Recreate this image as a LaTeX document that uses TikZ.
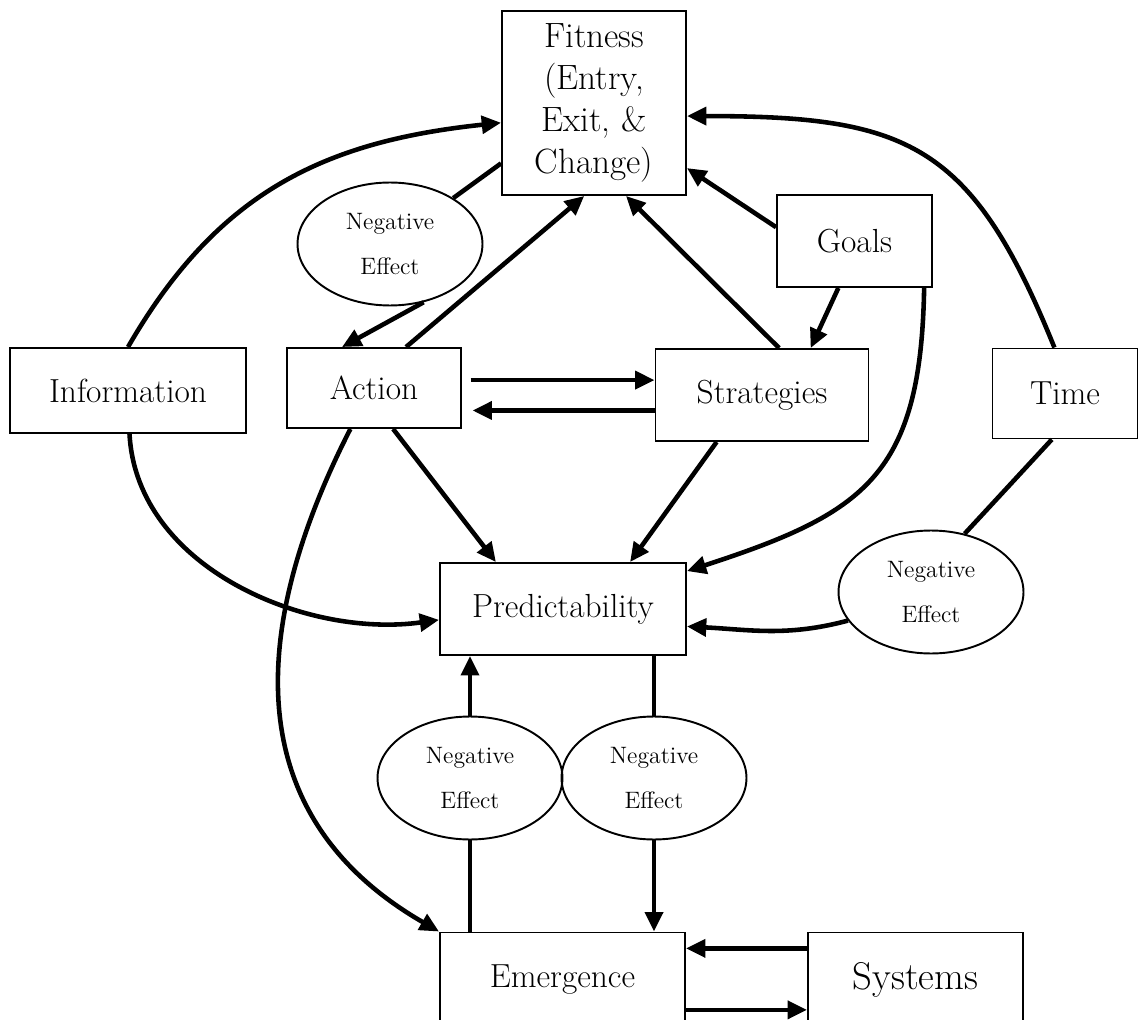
\documentclass[tikz,border=0pt]{standalone}
\usetikzlibrary{shapes.geometric,arrows.meta,calc}

\begin{document}
\begin{tikzpicture}[x=0.02cm,y=-0.02cm,
    box/.style={rectangle, draw, line width=1.1pt, align=center, inner sep=2pt, font=\fontsize{19}{24}\selectfont},
    effect/.style={ellipse, draw, line width=1.1pt, minimum width=3.7cm, minimum height=2.46cm, align=center, font=\fontsize{13.5}{26}\selectfont},
    link/.style={line width=2.6pt},
    arr/.style={line width=2.6pt, -{Triangle[length=11pt,width=10pt]}}]
            \clip (0,0) rectangle (1139,1020);
            % Top row
            \node[box, minimum width=3.68cm, minimum height=3.68cm, font=\fontsize{20}{24}\selectfont] (fitness) at (594,103) {Fitness\\(Entry,\\Exit, \&\\Change)};
            \node[box, minimum width=3.1cm, minimum height=1.84cm] (goals) at (854.5,241) {Goals};
            \node[effect] (negfit) at (390,244) {Negative\\Effect};
            % Middle row
            \node[box, minimum width=4.72cm, minimum height=1.7cm] (info) at (128,390.5) {Information};
            \node[box, minimum width=3.48cm, minimum height=1.6cm] (action) at (374,388) {Action};
            \node[box, minimum width=4.26cm, minimum height=1.84cm] (strat) at (762,395) {Strategies};
            \node[box, minimum width=2.9cm, minimum height=1.8cm] (time) at (1065,393.5) {Time};
            % Predictability
            \node[box, minimum width=4.92cm, minimum height=1.84cm] (pred) at (563,609) {Predictability};
            \node[effect] (negtime) at (931,592) {Negative\\Effect};
            \node[effect] (negup) at (470,778) {Negative\\Effect};
            \node[effect] (negdown) at (654,778) {Negative\\Effect};
            % Bottom row
            \node[box, minimum width=4.9cm, minimum height=1.9cm] (emerg) at (562.5,980) {Emergence};
            \node[box, minimum width=4.3cm, minimum height=1.9cm, font=\fontsize{22}{26}\selectfont] (sys) at (915.5,980) {Systems};

            % into Fitness
            \draw[arr] (info.north) to[out=60, in=186, looseness=1.05] (fitness.192);
            \draw[link] (fitness.213) -- (negfit);
            \draw[arr] (negfit.300) -- (action.128);
            \draw[arr] (action.52) -- (fitness.264);
            \draw[arr] (strat.70) -- (fitness.289);
            \draw[arr] (goals.170) -- (fitness.325);
            \draw[arr] (goals.251) -- (strat.44);
            \draw[arr] (time.103) to[out=112, in=0, looseness=1.3] (fitness.352);

            % Action <-> Strategies
            \draw[arr] ([xshift=5pt,yshift=4.5pt]action.east) coordinate (a1) -- (a1 -| strat.west);
            \draw[arr] ([yshift=-8.8pt]strat.west) coordinate (s1) -- ([xshift=6pt]s1 -| action.east);

            % into Predictability
            \draw[arr] (action.295) -- (pred.145);
            \draw[arr] (strat.226) -- (pred.35);
            \draw[arr] (goals.326) to[out=269, in=18, looseness=1.3] (pred.17);
            \draw[arr] (info.272) to[out=273, in=188, looseness=0.95] (pred.185);
            \draw[link] (time.254) -- (negtime.60);
            \draw[arr] (negtime.199) to[out=195, in=-3] (pred.352);

            % Predictability <-> Emergence
            \draw[arr] (action.240) to[out=243, in=150, looseness=1.15] (emerg.north west);
            \draw[link] (negup.south |- emerg.north) -- (negup.south);
            \draw[arr] (negup.north) -- (negup.north |- pred.south);
            \draw[link] (pred.south -| negdown.north) -- (negdown.north);
            \draw[arr] (negdown.south) -- (negdown.south |- emerg.north);

            % Emergence <-> Systems
            \draw[arr] ([yshift=18pt]sys.west) coordinate (s2) -- (s2 -| emerg.east);
            \draw[arr] ([yshift=-17pt]emerg.east) coordinate (m2) -- (m2 -| sys.west);
        \end{tikzpicture}
\end{document}
